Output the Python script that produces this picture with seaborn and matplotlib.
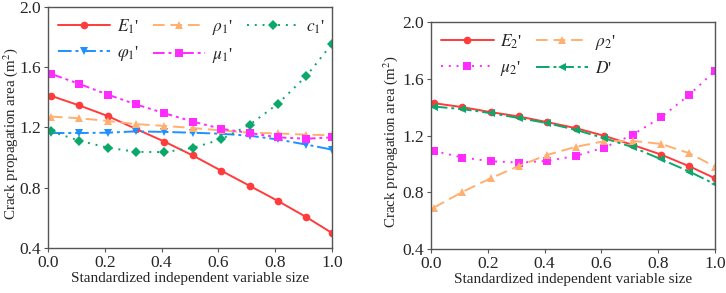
import numpy as np
import pandas as pd
import seaborn as sns
import matplotlib.pyplot as plt

# standardized independent variable positions
x = [0.01, 0.11, 0.21, 0.31, 0.41, 0.51, 0.61, 0.71, 0.81, 0.91, 1.0]

# left panel
E1 = [1.41, 1.346, 1.276, 1.19, 1.106, 1.014, 0.913, 0.813, 0.712, 0.605, 0.50]
rho1 = [1.272, 1.261, 1.243, 1.222, 1.21, 1.196, 1.18, 1.165, 1.160, 1.152, 1.148]
c1 = [1.174, 1.112, 1.066, 1.038, 1.036, 1.064, 1.121, 1.217, 1.357, 1.541, 1.753]
phi1 = [1.163, 1.163, 1.165, 1.174, 1.17, 1.165, 1.158, 1.145, 1.12, 1.086, 1.053]
mu1 = [1.556, 1.489, 1.418, 1.353, 1.294, 1.239, 1.191, 1.163, 1.134, 1.125, 1.134]

# right panel
E2 = [1.428, 1.40, 1.365, 1.334, 1.294, 1.252, 1.198, 1.134, 1.066, 0.983, 0.899]
rho2 = [0.692, 0.802, 0.899, 0.986, 1.064, 1.12, 1.16, 1.162, 1.141, 1.075, 0.981]
mu2 = [1.092, 1.045, 1.019, 1.009, 1.021, 1.056, 1.115, 1.205, 1.327, 1.487, 1.656]
D = [1.404, 1.386, 1.358, 1.323, 1.287, 1.24, 1.181, 1.118, 1.033, 0.946, 0.857]

red = '#ff3b3b'
orange = '#ffb070'
green = '#0aa86a'
blue = '#1e90ff'
magenta = '#ff2bff'

sns.set_style('ticks')
plt.rcParams['font.family'] = ['Liberation Serif', 'DejaVu Serif']
plt.rcParams['mathtext.fontset'] = 'stix'
plt.rcParams['font.size'] = 11

fig = plt.figure(figsize=(7.26, 2.93), dpi=100)
ax1 = fig.add_axes([0.0661, 0.1536, 0.391, 0.823])
ax2 = fig.add_axes([0.5937, 0.150, 0.391, 0.775])

dashdotdot = (0, (6, 2, 1.5, 2, 1.5, 2))
left = [
    ("$E_1$'", E1, red, 'o', '-'),
    ("$\\varphi_1$'", phi1, blue, 'v', (0, (7, 2, 1.5, 2))),
    ("$\\rho_1$'", rho1, orange, '^', (0, (6, 3))),
    ("$\\mu_1$'", mu1, magenta, 's', dashdotdot),
    ("$c_1$'", c1, green, 'D', (0, (1, 3))),
]
right = [
    ("$E_2$'", E2, red, 'o', '-'),
    ("$\\mu_2$'", mu2, magenta, 's', (0, (1, 3))),
    ("$\\rho_2$'", rho2, orange, '^', (0, (6, 3))),
    ("$D$'", D, green, '<', (0, (7, 2, 1.5, 2))),
]

for ax, series, ncol, lx in [(ax1, left, 3, -0.10), (ax2, right, 2, -0.11)]:
    for label, y, color, marker, ls in series:
        sns.lineplot(x=x, y=y, ax=ax, color=color, marker=marker, linestyle=ls,
                     linewidth=1.4, markersize=5.5, markeredgewidth=0,
                     label=label)
    ax.set_xlim(0, 1.0)
    ax.set_ylim(0.4, 2.0)
    ax.set_xticks(np.arange(0, 1.01, 0.2))
    ax.set_yticks(np.arange(0.4, 2.01, 0.4))
    ax.xaxis.set_major_formatter(plt.FormatStrFormatter('%.1f'))
    ax.yaxis.set_major_formatter(plt.FormatStrFormatter('%.1f'))
    ax.tick_params(labelsize=12.5, length=3, width=0.8, color='#555555', pad=2)
    for sp in ax.spines.values():
        sp.set_visible(True)
        sp.set_color('#555555')
        sp.set_linewidth(1.0)
    ax.set_xlabel('Standardized independent variable size', fontsize=11, labelpad=1)
    ax.set_ylabel('Crack propagation area (m$^2$)', fontsize=10.8)
    ax.yaxis.set_label_coords(lx, 0.475)
    ax.legend(ncol=ncol, loc='upper left', frameon=False, fontsize=12.5,
              handlelength=3, columnspacing=0.8, handletextpad=0.4,
              labelspacing=0.5, borderaxespad=0.2)

fig.savefig('out.png', dpi=100)
